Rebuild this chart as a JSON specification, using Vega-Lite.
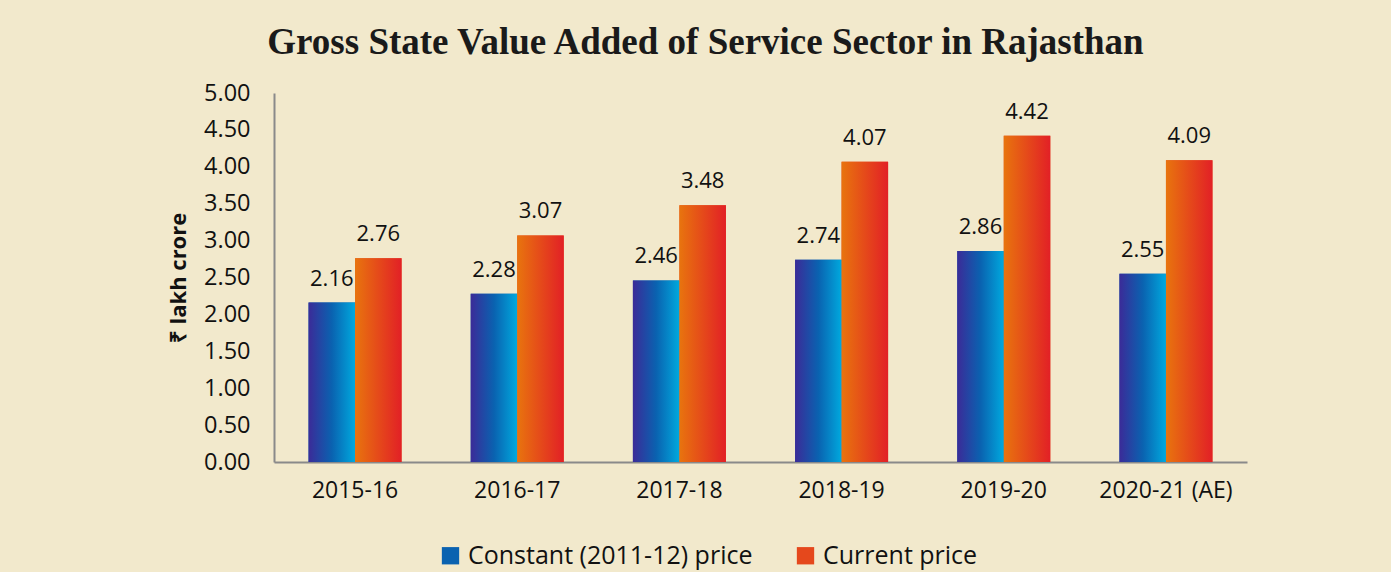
{
  "$schema": "https://vega.github.io/schema/vega-lite/v6.json",
  "width": 973,
  "height": 369,
  "autosize": "none",
  "padding": {"left": 274, "top": 93, "right": 144, "bottom": 110},
  "background": "#f2e9cc",
  "config": {"view": {"stroke": null}, "font": "Open Sans"},
  "title": {
    "text": "Gross State Value Added of Service Sector in Rajasthan",
    "font": "Liberation Serif",
    "fontSize": 37,
    "fontWeight": "bold",
    "color": "#1a1a1a",
    "anchor": "middle",
    "dx": -55,
    "offset": 19
  },
  "data": {
    "values": [
      {"year": "2015-16", "series": "Constant (2011-12) price", "value": 2.16},
      {"year": "2015-16", "series": "Current price", "value": 2.76},
      {"year": "2016-17", "series": "Constant (2011-12) price", "value": 2.28},
      {"year": "2016-17", "series": "Current price", "value": 3.07},
      {"year": "2017-18", "series": "Constant (2011-12) price", "value": 2.46},
      {"year": "2017-18", "series": "Current price", "value": 3.48},
      {"year": "2018-19", "series": "Constant (2011-12) price", "value": 2.74},
      {"year": "2018-19", "series": "Current price", "value": 4.07},
      {"year": "2019-20", "series": "Constant (2011-12) price", "value": 2.86},
      {"year": "2019-20", "series": "Current price", "value": 4.42},
      {"year": "2020-21 (AE)", "series": "Constant (2011-12) price", "value": 2.55},
      {"year": "2020-21 (AE)", "series": "Current price", "value": 4.09}
    ]
  },
  "encoding": {
    "x": {
      "field": "year",
      "type": "nominal",
      "sort": null,
      "scale": {"paddingInner": 0.4265, "paddingOuter": 0.213},
      "axis": {
        "title": null,
        "labelAngle": 0,
        "labelFontSize": 23,
        "labelColor": "#111111",
        "labelPadding": 17,
        "ticks": false,
        "tickSize": 0,
        "domainColor": "#8a8a8a",
        "domainWidth": 2
      }
    },
    "xOffset": {"field": "series", "type": "nominal", "scale": {"domain": ["Constant (2011-12) price", "Current price"], "paddingInner": 0, "paddingOuter": 0}},
    "y": {
      "field": "value",
      "type": "quantitative",
      "scale": {"domain": [0, 5], "nice": false},
      "axis": {
        "title": "₹ lakh crore",
        "titleFont": "Open Sans",
        "titleFontSize": 22,
        "titleFontWeight": "bold",
        "titleColor": "#111111",
        "titlePadding": 13,
        "values": [0, 0.5, 1, 1.5, 2, 2.5, 3, 3.5, 4, 4.5, 5],
        "format": ".2f",
        "labelFontSize": 23.5,
        "labelColor": "#111111",
        "labelPadding": 24,
        "ticks": false,
        "tickSize": 0,
        "grid": false,
        "domainColor": "#8a8a8a",
        "domainWidth": 2
      }
    }
  },
  "layer": [
    {
      "mark": {"type": "bar"},
      "encoding": {
        "color": {
          "field": "series",
          "type": "nominal",
          "scale": {
            "domain": ["Constant (2011-12) price", "Current price"],
            "range": ["#0a62b0", "#e5481c"]
          },
          "legend": {
            "title": null,
            "orient": "none",
            "legendX": 164,
            "legendY": 450,
            "direction": "horizontal",
            "symbolType": "square",
            "symbolSize": 300,
            "symbolStrokeWidth": 0,
            "labelFontSize": 25,
            "labelColor": "#111111",
            "labelOffset": 5,
            "columnPadding": 40,
            "labelLimit": 400
          }
        }
      }
    },
    {
      "transform": [{"filter": "datum.series === 'Constant (2011-12) price'"}],
      "mark": {
        "type": "bar",
        "color": {"gradient": "linear", "x1": 0, "y1": 0, "x2": 1, "y2": 0, "stops": [{"offset": 0, "color": "#3b2b98"}, {"offset": 0.5, "color": "#0a62b0"}, {"offset": 1, "color": "#00a9de"}]}
      }
    },
    {
      "transform": [{"filter": "datum.series === 'Current price'"}],
      "mark": {
        "type": "bar",
        "color": {"gradient": "linear", "x1": 0, "y1": 0, "x2": 1, "y2": 0, "stops": [{"offset": 0, "color": "#e8740e"}, {"offset": 1, "color": "#e22026"}]}
      }
    },
    {
      "mark": {"type": "text", "dy": -12, "baseline": "bottom", "fontSize": 22, "color": "#111111"},
      "encoding": {"text": {"field": "value", "type": "quantitative", "format": ".2f"}}
    }
  ]
}
